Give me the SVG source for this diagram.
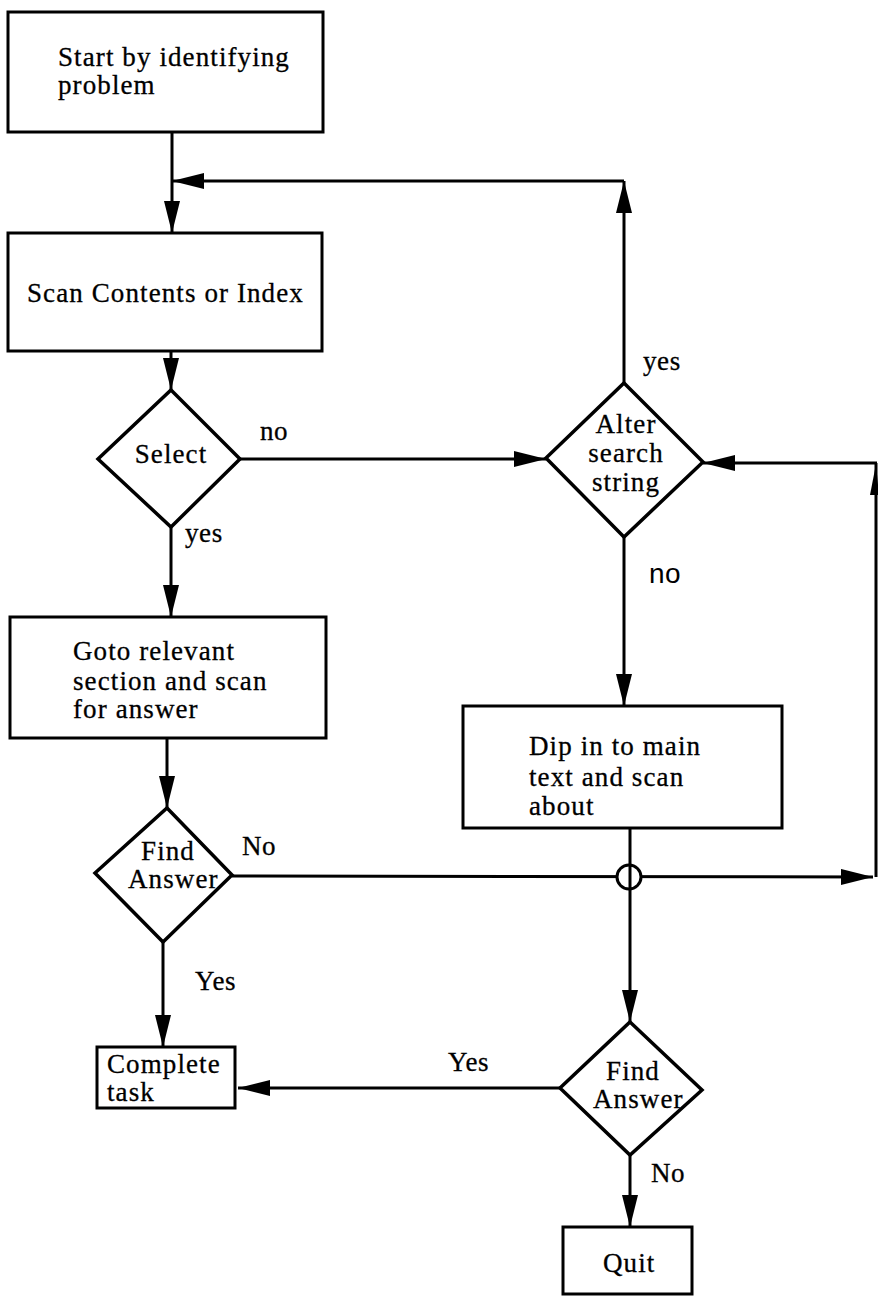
<svg xmlns="http://www.w3.org/2000/svg" width="878" height="1298" viewBox="0 0 878 1298">
<style>
.box{fill:#fff;stroke:#000;stroke-width:3}
.dm{fill:#fff;stroke:#000;stroke-width:3.5}
.ln{fill:none;stroke:#000;stroke-width:3}
.t{font-family:"Liberation Serif","Times New Roman",serif;font-size:27px;letter-spacing:1.1px;fill:#000;stroke:#000;stroke-width:0.3}
.lb{font-family:"Liberation Serif","Times New Roman",serif;font-size:27px;letter-spacing:0.6px;fill:#000;stroke:#000;stroke-width:0.3}
.ls{font-family:"Liberation Sans",Arial,sans-serif;font-size:28px;letter-spacing:0.5px;fill:#000}
.c{text-anchor:middle}
</style>
<defs>
<marker id="ah" viewBox="0 0 32 16" refX="32" refY="8" markerWidth="32" markerHeight="16" markerUnits="userSpaceOnUse" orient="auto">
<path d="M0,0 L32,8 L0,16 z" fill="#000"/>
</marker>
</defs>
<rect width="878" height="1298" fill="#fff"/>
<g id="connectors">
<line class="ln" x1="172" y1="132" x2="172" y2="233" marker-end="url(#ah)"/>
<line class="ln" x1="624" y1="383" x2="624" y2="181" marker-end="url(#ah)"/>
<line class="ln" x1="624" y1="181" x2="172" y2="181" marker-end="url(#ah)"/>
<line class="ln" x1="171" y1="351" x2="171" y2="390" marker-end="url(#ah)"/>
<line class="ln" x1="240" y1="459" x2="546" y2="459" marker-end="url(#ah)"/>
<line class="ln" x1="171" y1="527" x2="171" y2="617" marker-end="url(#ah)"/>
<line class="ln" x1="167" y1="738" x2="167" y2="808" marker-end="url(#ah)"/>
<line class="ln" x1="232" y1="876" x2="873" y2="877" marker-end="url(#ah)"/>
<circle cx="629" cy="877" r="12" fill="#fff" stroke="#000" stroke-width="3"/>
<line class="ln" x1="630" y1="828" x2="630" y2="1022" marker-end="url(#ah)"/>
<line class="ln" x1="876" y1="877" x2="876" y2="463"/>
<path d="M876,464 L870,495 L879,495 z" fill="#000"/>
<line class="ln" x1="877" y1="463" x2="703" y2="463" marker-end="url(#ah)"/>
<line class="ln" x1="624" y1="537" x2="624" y2="706" marker-end="url(#ah)"/>
<line class="ln" x1="560" y1="1088" x2="238" y2="1088" marker-end="url(#ah)"/>
<line class="ln" x1="163" y1="942" x2="163" y2="1047" marker-end="url(#ah)"/>
<line class="ln" x1="630" y1="1155" x2="630" y2="1227" marker-end="url(#ah)"/>
<text class="lb" x="260" y="440">no</text>
<text class="lb" x="185" y="542">yes</text>
<text class="lb" x="643" y="370">yes</text>
<text class="ls" x="649" y="583">no</text>
<text class="lb" x="242" y="855">No</text>
<text class="lb" x="195" y="990">Yes</text>
<text class="lb" x="448" y="1071">Yes</text>
<text class="lb" x="651" y="1182">No</text>
</g>
<g id="start">
<rect class="box" x="8" y="12" width="315" height="120"/>
<text class="t" x="58" y="66">Start by identifying</text>
<text class="t" x="58" y="94">problem</text>
</g>
<g id="scan">
<rect class="box" x="8" y="233" width="314" height="118"/>
<text class="t" x="27" y="302">Scan Contents or Index</text>
</g>
<g id="select">
<polygon class="dm" points="171,390 240,459 171,527 98,459"/>
<text class="t c" x="171" y="463">Select</text>
</g>
<g id="alter">
<polygon class="dm" points="624,383 703,462 624,537 546,458"/>
<text class="t c" x="626" y="433">Alter</text>
<text class="t c" x="626" y="462">search</text>
<text class="t c" x="626" y="491">string</text>
</g>
<g id="goto">
<rect class="box" x="10" y="617" width="316" height="121"/>
<text class="t" x="73" y="660">Goto relevant</text>
<text class="t" x="73" y="690">section and scan</text>
<text class="t" x="73" y="718">for answer</text>
</g>
<g id="dip">
<rect class="box" x="463" y="706" width="319" height="122"/>
<text class="t" x="529" y="755">Dip in to main</text>
<text class="t" x="529" y="786">text and scan</text>
<text class="t" x="529" y="815">about</text>
</g>
<g id="find1">
<polygon class="dm" points="167,808 232,875 163,942 95,873"/>
<text class="t c" x="168" y="860">Find</text>
<text class="t" x="128" y="888">Answer</text>
</g>
<g id="find2">
<polygon class="dm" points="630,1022 702,1090 630,1155 560,1088"/>
<text class="t c" x="633" y="1080">Find</text>
<text class="t" x="593" y="1108">Answer</text>
</g>
<g id="complete">
<rect class="box" x="97" y="1047" width="138" height="61"/>
<text class="t" x="107" y="1073">Complete</text>
<text class="t" x="107" y="1101">task</text>
</g>
<g id="quit">
<rect class="box" x="563" y="1227" width="129" height="67"/>
<text class="t" x="603" y="1272">Quit</text>
</g>
</svg>
